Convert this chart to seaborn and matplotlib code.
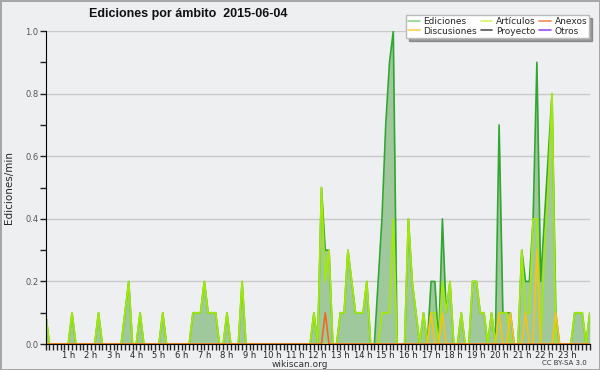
import numpy as np
import pandas as pd
import matplotlib
matplotlib.use("Agg")
import matplotlib.pyplot as plt
from matplotlib.lines import Line2D
import seaborn as sns

# Edits per minute, 10-minute bins from 00:00 to 24:00 (one row = one hour)
ediciones = [
    0.1, 0, 0, 0, 0, 0,          # 0 h
    0, 0.1, 0, 0, 0, 0,          # 1 h
    0, 0, 0.1, 0, 0, 0,          # 2 h
    0, 0, 0, 0.1, 0.2, 0,        # 3 h
    0, 0.1, 0, 0, 0, 0,          # 4 h
    0, 0.1, 0, 0, 0, 0,          # 5 h
    0, 0, 0, 0.1, 0.1, 0.1,      # 6 h
    0.2, 0.1, 0.1, 0.1, 0, 0,    # 7 h
    0.1, 0, 0, 0, 0.2, 0,        # 8 h
    0, 0, 0, 0, 0, 0,            # 9 h
    0, 0, 0, 0, 0, 0,            # 10 h
    0, 0, 0, 0, 0, 0.1,          # 11 h
    0, 0.5, 0.3, 0.3, 0, 0,      # 12 h
    0.1, 0.1, 0.3, 0.2, 0.1, 0.1,  # 13 h
    0.1, 0.2, 0, 0, 0.2, 0.4,    # 14 h
    0.7, 0.9, 1.0, 0, 0, 0,      # 15 h
    0.4, 0.2, 0.1, 0, 0.1, 0,    # 16 h
    0.2, 0.2, 0, 0.4, 0.1, 0.2,  # 17 h
    0, 0, 0.1, 0, 0, 0.2,        # 18 h
    0.2, 0.1, 0.1, 0, 0.1, 0,    # 19 h
    0.7, 0.1, 0.1, 0.1, 0, 0,    # 20 h
    0.3, 0.2, 0.2, 0.4, 0.9, 0.2,  # 21 h
    0.4, 0.6, 0.8, 0.1, 0, 0,    # 22 h
    0, 0, 0.1, 0.1, 0.1, 0,      # 23 h
    0.1,
]
articulos = [
    0.1, 0, 0, 0, 0, 0,
    0, 0.1, 0, 0, 0, 0,
    0, 0, 0.1, 0, 0, 0,
    0, 0, 0, 0.1, 0.2, 0,
    0, 0.1, 0, 0, 0, 0,
    0, 0.1, 0, 0, 0, 0,
    0, 0, 0, 0.1, 0.1, 0.1,
    0.2, 0.1, 0.1, 0.1, 0, 0,
    0.1, 0, 0, 0, 0.2, 0,
    0, 0, 0, 0, 0, 0,
    0, 0, 0, 0, 0, 0,
    0, 0, 0, 0, 0, 0.1,
    0, 0.5, 0.2, 0.3, 0, 0,
    0.1, 0.1, 0.3, 0.2, 0.1, 0.1,
    0.1, 0.2, 0, 0, 0, 0.1,
    0.1, 0.1, 0.4, 0, 0, 0,
    0.4, 0.2, 0.1, 0, 0.1, 0,
    0.1, 0.1, 0, 0.2, 0.1, 0.2,
    0, 0, 0.1, 0, 0, 0.2,
    0.2, 0.1, 0.1, 0, 0.1, 0,
    0.1, 0.1, 0.1, 0, 0, 0,
    0.3, 0.1, 0.1, 0.4, 0.4, 0,
    0.3, 0.5, 0.8, 0, 0, 0,
    0, 0, 0.1, 0.1, 0.1, 0,
    0.1,
]
discusiones = [0] * 102 + [
    0.1, 0, 0, 0.1, 0, 0,        # 17 h
    0, 0, 0, 0, 0, 0,            # 18 h
    0, 0, 0, 0, 0, 0,            # 19 h
    0.1, 0, 0, 0.1, 0, 0,        # 20 h
    0, 0.1, 0, 0, 0.3, 0,        # 21 h
    0, 0, 0, 0.1, 0, 0,          # 22 h
    0, 0, 0, 0, 0, 0,            # 23 h
    0,
]
anexos = [0] * 74 + [0.1] + [0] * 70

hour_labels = [f"{h} h" for h in range(1, 24)]

df = pd.DataFrame({
    "hora": np.arange(len(ediciones)) / 6,
    "Ediciones": ediciones,
    "Artículos": articulos,
    "Discusiones": discusiones,
    "Anexos": anexos,
})

bg = "#eeeff1"
sns.set_style("ticks", {"axes.facecolor": bg, "figure.facecolor": bg})
plt.rcParams["font.family"] = ["DejaVu Sans"]

fig = plt.figure(figsize=(6, 3.7), dpi=100, linewidth=2, edgecolor="#a6a6a6")
ax = fig.add_axes([0.076, 0.070, 0.907, 0.846])

# filled area for the total, then the series lines
ax.fill_between(df["hora"], df["Ediciones"], color="#9fc99c", lw=0, zorder=1)
sns.lineplot(data=df, x="hora", y="Ediciones", ax=ax, color="#33a533", lw=1.2, zorder=2)
sns.lineplot(data=df, x="hora", y="Artículos", ax=ax, color="#a2e80a", lw=1.3, zorder=3)
sns.lineplot(data=df, x="hora", y="Discusiones", ax=ax, color="#f2c417", lw=1.2, zorder=4)
sns.lineplot(data=df, x="hora", y="Anexos", ax=ax, color="#f06a1e", lw=1.2, zorder=5)

ax.set_xlim(0, 24)
ax.set_ylim(0, 1.0)
ax.set_yticks([0.0, 0.2, 0.4, 0.6, 0.8, 1.0])
ax.set_yticklabels(["0.0", "0.2", "0.4", "0.6", "0.8", "1.0"])
ax.set_yticks(np.arange(0.1, 1.0, 0.2), minor=True)
ax.set_xticks(range(1, 24))
ax.set_xticklabels(hour_labels)
ax.set_xticks(np.arange(0, 24.01, 1 / 6), minor=True)
ax.tick_params(axis="both", which="both", direction="out", length=4, width=1,
               labelsize=6, colors="#222222", pad=1)
for lbl in ax.get_yticklabels():
    lbl.set_color("#555555")

ax.yaxis.grid(True, color="#cacaca", lw=1)
ax.set_axisbelow(True)
for s in ["top", "right"]:
    ax.spines[s].set_visible(False)
ax.spines["left"].set_color("black")
ax.spines["bottom"].set_color("black")
ax.spines["left"].set_zorder(6)
ax.spines["bottom"].set_zorder(6)

ax.set_xlabel("")
ax.set_ylabel("Ediciones/min", fontsize=7.5, labelpad=8)

fig.text(0.313, 0.962, "Ediciones por ámbito  2015-06-04", ha="center", va="center",
         fontsize=9, fontweight="bold", color="#111111", family="Liberation Sans")
fig.text(0.5, 0.016, "wikiscan.org", ha="center", va="center", fontsize=6.5, color="#333333")
fig.text(0.978, 0.018, "CC BY-SA 3.0", ha="right", va="center", fontsize=5, color="#333333")

handles = [
    Line2D([], [], color="#8fd38f", lw=1.2),
    Line2D([], [], color="#f5d445", lw=1.2),
    Line2D([], [], color="#d4f06e", lw=1.2),
    Line2D([], [], color="#555555", lw=1.2),
    Line2D([], [], color="#f28a52", lw=1.2),
    Line2D([], [], color="#9b4ff0", lw=1.2),
]
names = ["Ediciones", "Discusiones", "Artículos", "Proyecto", "Anexos", "Otros"]
leg = fig.legend(handles, names, ncol=3, loc="upper right", bbox_to_anchor=(0.99, 0.972),
                 fontsize=6.5, frameon=True, fancybox=False, shadow=True,
                 handlelength=1.3, handletextpad=0.4, columnspacing=0.4,
                 labelspacing=0.05, borderpad=0.25)
leg.get_frame().set_edgecolor("#bbbbbb")
leg.get_frame().set_facecolor("white")

fig.savefig("out.png", dpi=100, facecolor=fig.get_facecolor(), edgecolor=fig.get_edgecolor())
